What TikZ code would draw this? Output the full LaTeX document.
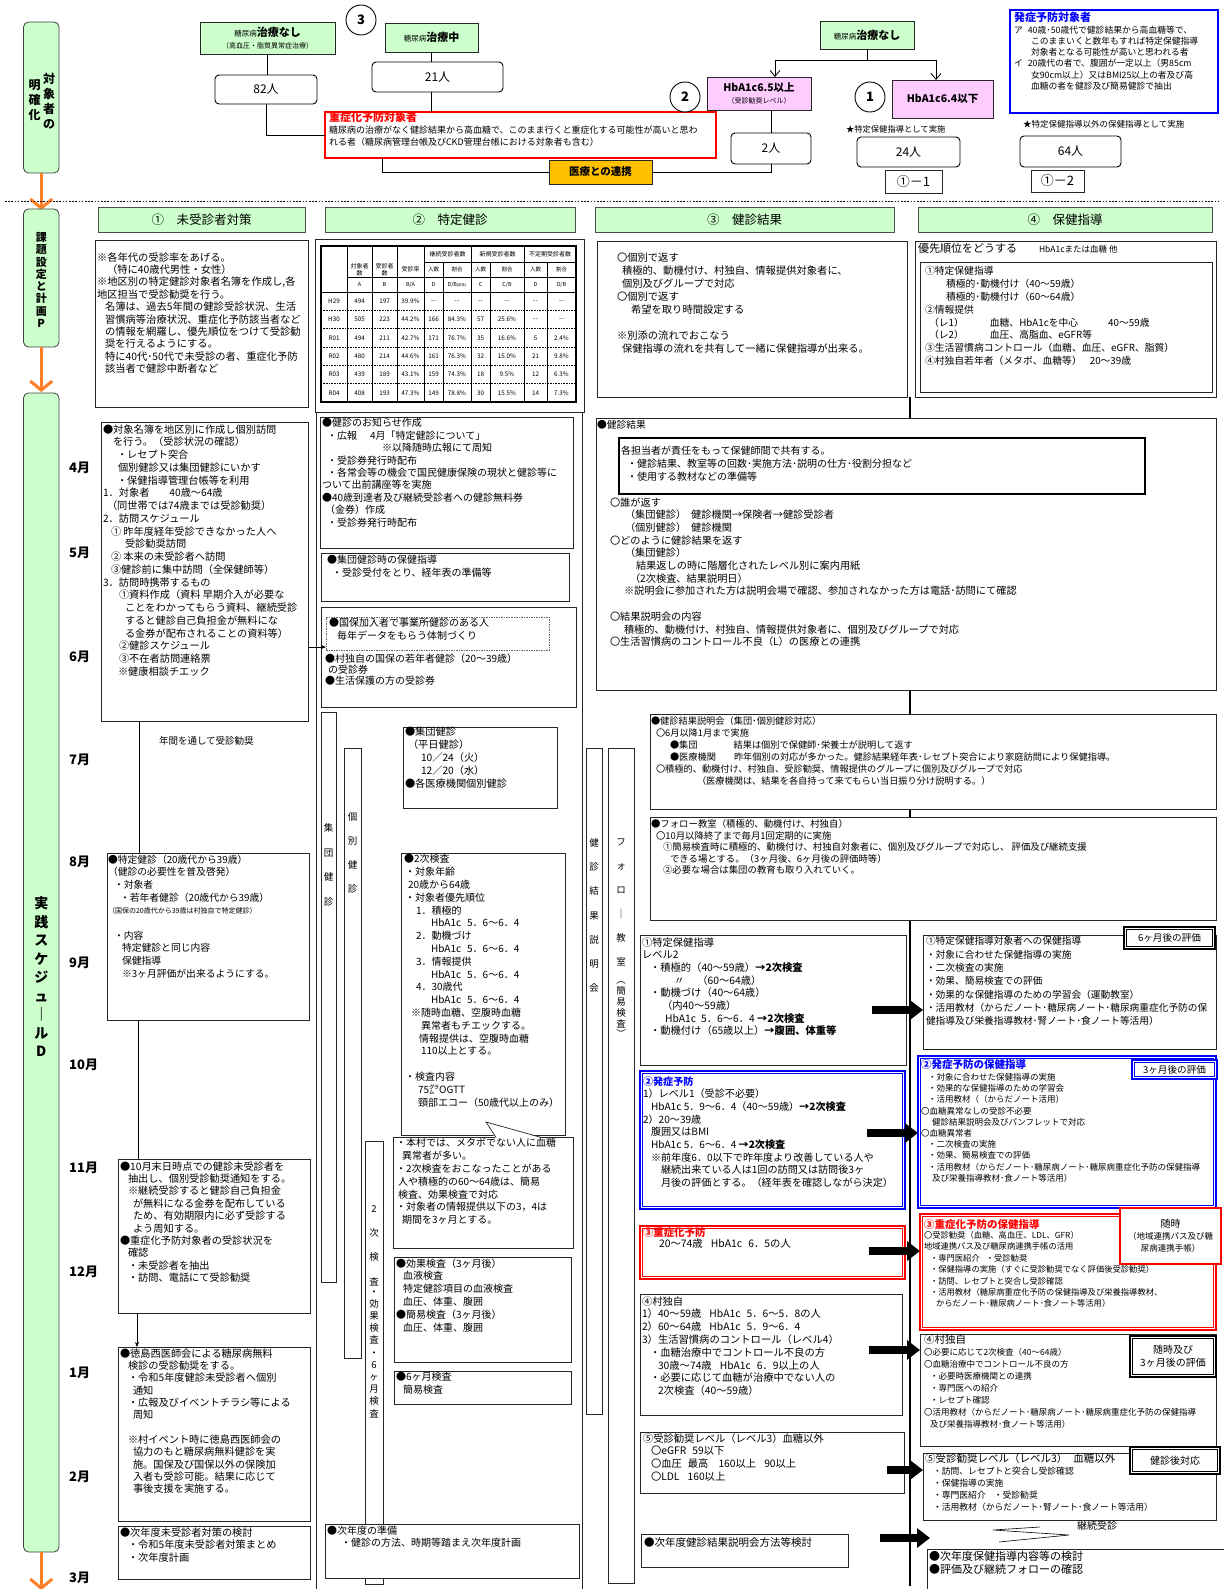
\documentclass[tikz,border=0pt]{standalone}
\usepackage{fontspec}
\setmainfont{Noto Sans CJK JP}
\usetikzlibrary{arrows.meta,calc}
\definecolor{sidegreen}{HTML}{CCFFCC}
\definecolor{pinkbox}{HTML}{FFCCFF}
\definecolor{goldbox}{HTML}{FFC000}
\definecolor{arrorange}{HTML}{FF7F27}
\definecolor{bblue}{HTML}{0000FF}
\definecolor{rred}{HTML}{FF0000}
\definecolor{edge}{HTML}{262626}
\newcommand\fs[2]{\fontsize{#1}{#2}\selectfont}
\newcommand\ind[1]{\hspace*{#1pt}}
\newcommand\ddash{-\kern0.4pt-}
% box: [style]{x1}{y1}{x2}{y2}{name}
\newcommand\bx[6][]{\node[bx,minimum width={(#4-#2)*1pt},minimum height={(#5-#3)*1pt},#1] (#6) at (#2,#3) {};}
% double-ruled box: [style]{x1}{y1}{x2}{y2}{name}{colour}
\newcommand\bxd[7][]{\node[bx,draw=#7,line width=1.2pt,minimum width={(#4-#2)*1pt},minimum height={(#5-#3)*1pt},#1] (#6) at (#2,#3) {};
  \draw[draw=#7,line width=0.5pt] ($(#6.north west)+(2.6,2.6)$) rectangle ($(#6.south east)+(-2.6,-2.6)$);}
% text block: {name}{x}{y of first line centre}{size}{skip}{text}
\newcommand\tl[6]{\node[tx,font=\fs{#4}{#5}] (#1) at (#2,{#3-0.55*#4}) {#6};}
\tikzset{
  bx/.style={rectangle,draw=edge,line width=0.7pt,fill=white,inner sep=0pt,outer sep=0pt,anchor=north west},
  tx/.style={inner sep=0pt,outer sep=0pt,anchor=north west,align=left},
  ctr/.style={inner sep=0pt,outer sep=0pt,anchor=center,align=center},
  side/.style={bx,fill=sidegreen,rounded corners=5pt,draw=black!75,line width=0.8pt},
  hdr/.style={bx,fill=sidegreen,draw=black!70,line width=0.8pt},
  rnd/.style={bx,rounded corners=4pt,line width=0.9pt,draw=black},
  circ/.style={circle,draw=black,line width=0.9pt,fill=white,minimum size=30pt,inner sep=0pt,font=\bfseries\fs{13}{13}},
  conn/.style={draw=black,line width=0.8pt},
  orarrow/.style={draw=arrorange,line width=3pt,-{Straight Barb[length=9pt,width=22pt]}},
  bigarrow/.style={draw=black,line width=8pt,-{Triangle[length=13pt,width=19pt]}},
  cell/.style={ctr,font=\fs{6.3}{7}}
}
\begin{document}
\begin{tikzpicture}[x=1pt,y=-1pt]
\useasboundingbox (0,0) rectangle (1223,1589);
\fill[white] (0,0) rectangle (1223,1589);

% ---------------- side bars ----------------
\bx[side]{23.5}{22}{59}{173}{sb1}
\node[ctr,font=\bfseries\fs{12}{15}] (sb1a) at (49,101) {対\\象\\者\\の};
\node[ctr,font=\bfseries\fs{12}{15}] (sb1b) at (34.5,100) {明\\確\\化};
\coordinate (oa1) at (41.25,210);
\draw[orarrow] (sb1.south) -- (oa1);

\coordinate (dl1) at (5,201.5); \coordinate (dl2) at (1218,201.5);
\draw[dash pattern=on 1.6pt off 1.6pt,line width=1.3pt] (dl1) -- (dl2);

\bx[side]{23.5}{209}{59}{347}{sb2}
\node[ctr,font=\bfseries\fs{11}{12.3}] (sb2t) at (41.25,280) {課\\題\\設\\定\\と\\計\\画\\P};
\coordinate (oa2) at (41.25,392);
\draw[orarrow] (sb2.south) -- (oa2);

\bx[side]{23.5}{393}{59}{1552}{sb3}
\node[ctr,font=\bfseries\fs{14}{18.5}] (sb3t) at (41.25,977) {実\\践\\ス\\ケ\\ジ\\ュ\\｜\\ル\\D};
\coordinate (oa3) at (41.25,1590);
\draw[orarrow] (sb3.south) -- (oa3);

% ---------------- top: target groups ----------------
\bx[fill=sidegreen]{200}{22}{335}{54}{tnL}
\node[ctr,font=\fs{9}{12}] (tnLt) at (267.5,38) {{\fs{7.5}{9}糖尿病}{\bfseries\fs{11}{12}治療なし}\\{\fs{7}{9}（高血圧・脂質異常症治療）}};
\node[circ] (c3) at (361,20) {3};
\bx[fill=sidegreen]{385}{23}{478}{52}{tnM}
\node[ctr] (tnMt) at (431.5,37.5) {{\fs{7.5}{9}糖尿病}{\bfseries\fs{11}{12}治療中}};
\bx[rnd]{215}{75}{317}{104}{n82}
\node[ctr,font=\fs{12}{14}] (n82t) at (n82.center) {82人};
\bx[rnd]{372}{62}{503}{92}{n21}
\node[ctr,font=\fs{12}{14}] (n21t) at (n21.center) {21人};

\bx[draw=rred,line width=1.6pt]{325}{112}{716}{158}{red}
\tl{redt}{329}{118}{11}{13}{{\color{rred}\bfseries 重症化予防対象者}}
\tl{redb}{329}{130.5}{9}{12.5}{糖尿病の治療がなく健診結果から高血糖で、このまま行くと重症化する可能性が高いと思わ\\れる者（糖尿病管理台帳及びCKD管理台帳における対象者も含む）}

\bx[fill=goldbox]{549}{160}{652}{184}{gold}
\node[ctr,font=\bfseries\fs{10.5}{12}] (goldt) at (gold.center) {医療との連携};

\draw[conn] (tnL.south) -- (tnL.south |- n82.north);
\draw[conn] (n82.south) |- (red.west);
\draw[conn] (tnM.south) -- (tnM.south |- n21.north);
\draw[conn] (tnM.south |- n21.south) -- (tnM.south |- red.north);
\coordinate (rb) at (382,158);
\draw[conn] (rb) |- (gold.west);

\bx[fill=sidegreen]{820}{21}{914}{49}{tnR}
\node[ctr] (tnRt) at (tnR.center) {{\fs{7.5}{9}糖尿病}{\bfseries\fs{11}{12}治療なし}};
\bx[fill=pinkbox]{707}{77}{811}{110}{h65}
\node[ctr,font=\fs{9}{12}] (h65t) at (759,93.5) {{\bfseries\fs{10.5}{11}HbA1c6.5以上}\\{\fs{7}{9}（受診勧奨レベル）}};
\node[circ] (c2) at (685,97) {2};
\bx[fill=pinkbox]{892}{80}{993}{118}{h64}
\node[ctr,font=\bfseries\fs{10.5}{12}] (h64t) at (h64.center) {HbA1c6.4以下};
\node[circ] (c1) at (870,97) {1};
\coordinate (spC) at (867,60); \coordinate (spL) at (775,60); \coordinate (spR) at (936,60);
\draw[conn] (tnR.south) -- (spC);
\draw[conn] (spL) -- (spR);
\draw[conn,-{Straight Barb[length=6pt,width=10pt]}] (spL) -- (spL |- h65.north);
\draw[conn,-{Straight Barb[length=6pt,width=10pt]}] (spR) -- (spR |- h64.north);

\bx[rnd]{731}{133}{811}{164}{n2}
\node[ctr,font=\fs{12}{14}] (n2t) at (n2.center) {2人};
\draw[conn] (n2.north |- h65.south) -- (n2.north);
\draw[conn] (n2.south) |- (gold.east);

\tl{star1}{846}{130}{8.3}{10}{★特定保健指導として実施}
\bx[rnd]{857}{137}{960}{167}{n24}
\node[ctr,font=\fs{12}{14}] (n24t) at (n24.center) {24人};
\bx{885}{170}{942}{193}{k11}
\node[ctr,font=\fs{13}{14}] (k11t) at (k11.center) {①－1};

\bx[draw=bblue,line width=1.8pt]{1010}{10}{1218}{113}{blu}
\tl{blut}{1014}{18}{11}{13}{{\color{bblue}\bfseries 発症予防対象者}}
\tl{blub}{1014}{30.5}{8.8}{11.3}{ア\ind{5}40歳･50歳代で健診結果から高血糖等で、\\\ind{17}このままいくと数年もすれば特定保健指導\\\ind{17}対象者となる可能性が高いと思われる者\\イ\ind{5}20歳代の者で、腹囲が一定以上（男85cm\\\ind{17}女90cm以上）又はBMI25以上の者及び高\\\ind{17}血糖の者を健診及び簡易健診で抽出}
\tl{star2}{1023}{125}{8.5}{10}{★特定保健指導以外の保健指導として実施}
\bx[rnd]{1020}{136}{1121}{167}{n64}
\node[ctr,font=\fs{12}{14}] (n64t) at (n64.center) {64人};
\bx{1031}{170}{1084}{192}{k12}
\node[ctr,font=\fs{13}{14}] (k12t) at (k12.center) {①－2};

% ---------------- plan row ----------------
\bx[hdr]{98}{207}{305}{232}{h1}
\node[ctr,font=\fs{12.5}{14}] (h1t) at (h1.center) {①　未受診者対策};
\bx[hdr]{325}{207}{575}{232}{h2}
\node[ctr,font=\fs{12.5}{14}] (h2t) at (h2.center) {②　特定健診};
\bx[hdr]{595}{207}{894}{232}{h3}
\node[ctr,font=\fs{12.5}{14}] (h3t) at (h3.center) {③　健診結果};
\bx[hdr]{918}{207}{1212}{232}{h4}
\node[ctr,font=\fs{12.5}{14}] (h4t) at (h4.center) {④　保健指導};

\bx{95}{240}{308}{407}{p1}
\tl{p1t}{97}{258}{10.3}{12.4}{※各年代の受診率をあげる。\\\ind{10}（特に40歳代男性・女性）\\※地区別の特定健診対象者名簿を作成し,各\\地区担当で受診勧奨を行う。\\\ind{8}名簿は、過去5年間の健診受診状況、生活\\\ind{8}習慣病等治療状況、重症化予防該当者など\\\ind{8}の情報を網羅し、優先順位をつけて受診勧\\\ind{8}奨を行えるようにする。\\\ind{8}特に40代･50代で未受診の者、重症化予防\\\ind{8}該当者で健診中断者など}

% health check table
\bx{315}{239}{584}{412}{p2}
\coordinate (tnw) at (321,246); \coordinate (tse) at (576,402);
\foreach \x in {347,372,397,424,471,524} \draw[line width=0.5pt] (\x,246) -- (\x,402);
\foreach \x in {443,490,547} \draw[line width=0.5pt] (\x,262) -- (\x,402);
\draw[line width=0.5pt] (424,262) -- (576,262);
\draw[line width=0.5pt] (347,277) -- (576,277);
\draw[line width=0.5pt] (321,292) -- (576,292);
\foreach \y in {310.3,328.7,347,365.3,383.7} \draw[line width=0.5pt,dash pattern=on 0.8pt off 0.8pt] (321,\y) -- (576,\y);
\draw[line width=1.4pt] (tnw) rectangle (tse);
\node[ctr,font=\fs{6}{7.5}] (th1) at (359.5,269.5) {対象者\\数};
\node[ctr,font=\fs{6}{7.5}] (th2) at (384.5,269.5) {受診者\\数};
\node[ctr,font=\fs{6}{7.5}] (th3) at (410.5,269.5) {受診率};
\node[ctr,font=\fs{6}{7.5}] (th4) at (447.5,254) {継続受診者数};
\node[ctr,font=\fs{6}{7.5}] (th5) at (497.5,254) {新規受診者数};
\node[ctr,font=\fs{6}{7.5}] (th6) at (550,254) {不定期受診者数};
\def\colx{{334,359.5,384.5,410.5,433.5,457,480.5,507,535.5,561.5}}
\foreach \v [count=\c from 4] in {人数,割合,人数,割合,人数,割合}{
  \pgfmathsetmacro\xx{\colx[\c]}
  \node[ctr,font=\fs{5.5}{6}] (tr2-\c) at (\xx,269.5) {\v};}
\foreach \v [count=\c from 1] in {A,B,B/A,D,{D/B{\fs{3.5}{4}(前年)}},C,C/B,D,D/B}{
  \pgfmathsetmacro\xx{\colx[\c]}
  \node[ctr,font=\fs{5.5}{6}] (tr3-\c) at (\xx,284.5) {\v};}
\foreach \v [count=\c from 0] in {H29,494,197,39.9\%,\ddash,\ddash,\ddash,\ddash,\ddash,\ddash}{
  \pgfmathsetmacro\xx{\colx[\c]}
  \node[cell] (ta\c) at (\xx,301.2) {\v};}
\foreach \v [count=\c from 0] in {H30,505,223,44.2\%,166,84.3\%,57,25.6\%,\ddash,\ddash}{
  \pgfmathsetmacro\xx{\colx[\c]}
  \node[cell] (tb\c) at (\xx,319.5) {\v};}
\foreach \v [count=\c from 0] in {R01,494,211,42.7\%,171,76.7\%,35,16.6\%,5,2.4\%}{
  \pgfmathsetmacro\xx{\colx[\c]}
  \node[cell] (tc\c) at (\xx,337.8) {\v};}
\foreach \v [count=\c from 0] in {R02,480,214,44.6\%,161,76.3\%,32,15.0\%,21,9.8\%}{
  \pgfmathsetmacro\xx{\colx[\c]}
  \node[cell] (td\c) at (\xx,356.2) {\v};}
\foreach \v [count=\c from 0] in {R03,439,189,43.1\%,159,74.3\%,18,9.5\%,12,6.3\%}{
  \pgfmathsetmacro\xx{\colx[\c]}
  \node[cell] (te\c) at (\xx,374.5) {\v};}
\foreach \v [count=\c from 0] in {R04,408,193,47.3\%,149,78.8\%,30,15.5\%,14,7.3\%}{
  \pgfmathsetmacro\xx{\colx[\c]}
  \node[cell] (tf\c) at (\xx,392.8) {\v};}

\bx{597}{241}{907}{397}{p3}
\tl{p3t}{617}{259}{10.3}{13}{〇個別で返す\\\ind{5}積極的、動機付け、村独自、情報提供対象者に、\\\ind{5}個別及びグループで対応\\〇個別で返す\\\ind{14}希望を取り時間設定する\\\mbox{}\\※別添の流れでおこなう\\\ind{5}保健指導の流れを共有して一緒に保健指導が出来る。}

\bx{915}{241}{1216}{397}{p4o}
\bx{920}{262}{1212}{392}{p4i}
\tl{p4h}{918}{249}{11}{13}{優先順位をどうする\ind{22}{\fs{8.5}{10}HbA1cまたは血糖 他}}
\tl{p4t}{925}{272}{9.8}{12.8}{①特定保健指導\\\ind{21}積極的･動機付け（40～59歳）\\\ind{21}積極的･動機付け（60～64歳）\\②情報提供\\\ind{4}（レ1）\ind{26}血糖、HbA1cを中心\ind{30}40～59歳\\\ind{4}（レ2）\ind{26}血圧、高脂血、eGFR等\\③生活習慣病コントロール（血糖、血圧、eGFR、脂質）\\④村独自若年者（メタボ、血糖等）\ind{8}20～39歳}

% spine of column 3/4
\coordinate (vtop) at (910,397); \coordinate (vbot) at (910,1586);
\draw[line width=1.3pt] (vtop) -- (vbot);

% ---------------- schedule row ----------------
\foreach \m/\y [count=\i] in {4月/468,5月/553,6月/657,7月/760,8月/862,9月/963,10月/1065,11月/1168,12月/1272,1月/1373,2月/1477,3月/1578}
  \node[anchor=west,inner sep=0pt,font=\bfseries\fs{13}{14}] (mon\i) at (69,\y) {\m};

% column 1
\bx{101}{422}{308}{721}{d1}
\tl{d1t}{103}{430}{10.2}{12.75}{●対象名簿を地区別に作成し個別訪問\\\ind{10}を行う。（受診状況の確認）\\\ind{14}・レセプト突合\\\ind{15}個別健診又は集団健診にいかす\\\ind{14}・保健指導管理台帳等を利用\\1．対象者\ind{20}40歳～64歳\\\ind{4}（同世帯では74歳までは受診勧奨）\\2．訪問スケジュール\\\ind{8}① 昨年度経年受診できなかった人へ\\\ind{22}受診勧奨訪問\\\ind{8}② 本来の未受診者へ訪問\\\ind{8}③健診前に集中訪問（全保健師等）\\3．訪問時携帯するもの\\\ind{16}①資料作成（資料 早期介入が必要な\\\ind{22}ことをわかってもらう資料、継続受診\\\ind{22}すると健診自己負担金が無料にな\\\ind{22}る金券が配布されることの資料等）\\\ind{16}②健診スケジュール\\\ind{16}③不在者訪問連絡票\\\ind{15}※健康相談チエック}

\tl{yr}{159}{742}{9.5}{11}{年間を通して受診勧奨}

\bx{107}{853}{309}{1020}{d8}
\tl{d8t}{108}{860}{9.8}{12.7}{●特定健診（20歳代から39歳）\\（健診の必要性を普及啓発）\\\ind{6}・対象者\\\ind{12}・若年者健診（20歳代から39歳）\\{\fs{7}{9}（国保の20歳代から39歳は村独自で特定健診）}\\\mbox{}\\\ind{6}・内容\\\ind{14}特定健診と同じ内容\\\ind{14}保健指導\\\ind{14}※3ヶ月評価が出来るようにする。}

\bx{118}{1159}{310}{1313}{d11}
\tl{d11t}{120}{1167}{10.2}{12.4}{●10月末日時点での健診未受診者を\\\ind{8}抽出し、個別受診勧奨通知をする。\\\ind{8}※継続受診すると健診自己負担金\\\ind{13}が無料になる金券を配布している\\\ind{13}ため、有効期限内に必ず受診する\\\ind{13}よう周知する。\\●重症化予防対象者の受診状況を\\\ind{8}確認\\\ind{8}・未受診者を抽出\\\ind{8}・訪問、電話にて受診勧奨}

\bx{118}{1347}{310}{1521}{d1m}
\tl{d1mt}{120}{1354}{10.2}{12.35}{●徳島西医師会による糖尿病無料\\\ind{8}検診の受診勧奨をする。\\\ind{8}・令和5年度健診未受診者へ個別\\\ind{13}通知\\\ind{8}・広報及びイベントチラシ等による\\\ind{13}周知\\\mbox{}\\\ind{8}※村イベント時に徳島西医師会の\\\ind{13}協力のもと糖尿病無料健診を実\\\ind{13}施。国保及び国保以外の保険加\\\ind{13}入者も受診可能。結果に応じて\\\ind{13}事後支援を実施する。}

\bx{118}{1526}{310}{1579}{d3m}
\tl{d3mt}{120}{1533}{10.2}{12.5}{●次年度未受診者対策の検討\\\ind{8}・令和5年度未受診者対策まとめ\\\ind{8}・次年度計画}

\coordinate (c1) at ($(d1.south west)+(38,0)$);
\draw[conn] (c1) -- (c1 |- d8.north);
\coordinate (c2) at ($(d8.south west)+(31,0)$);
\draw[conn] (c2) -- (c2 |- d11.north);
\coordinate (c3) at ($(d11.south west)+(19,0)$);
\draw[conn,-{Stealth[length=5pt,width=4pt]}] (c3) -- (c3 |- d1m.north);

% column 2
\bx[fill=none]{316}{412}{582}{1595}{f2}
\bx{320}{417}{573}{548}{k1}
\tl{k1t}{322}{424}{10}{12.4}{●健診のお知らせ作成\\\ind{5}・広報\ind{13}4月「特定健診について」\\\ind{60}※以降随時広報にて周知\\\ind{5}・受診券発行時配布\\\ind{5}・各常会等の機会で国民健康保険の現状と健診等に\\ついて出前講座等を実施\\●40歳到達者及び継続受診者への健診無料券\\\ind{3}（金券）作成\\\ind{5}・受診券発行時配布}

\bx{321}{553}{569}{601}{k2}
\tl{k2t}{327}{561}{10}{12.8}{●集団健診時の保健指導\\\ind{5}・受診受付をとり、経年表の準備等}

\bx{321}{607}{576}{707}{k3}
\bx[draw=black!60,line width=0.5pt,dash pattern=on 1.5pt off 1pt]{326}{617}{549}{650}{kd}
\tl{kdt}{329}{624}{10}{12.8}{●国保加入者で事業所健診のある人\\\ind{8}毎年データをもらう体制づくり}
\tl{k3t}{325}{659}{10}{11.3}{●村独自の国保の若年者健診（20～39歳）\\\ind{3}の受診券\\●生活保護の方の受診券}
\coordinate (y647) at (0,647);
\draw[conn,-{Stealth[length=5pt,width=4pt]}] (d1.east |- y647) -- (kd.west |- y647);

\bx{321}{712}{336}{1282}{vg1}
\node[ctr,font=\fs{9.5}{24.7}] (vg1t) at (328.5,865) {集\\団\\健\\診};
\bx{344}{748}{361}{1358}{vg2}
\node[ctr,font=\fs{9.5}{24}] (vg2t) at (352.5,853) {個\\別\\健\\診};

\bx{403}{727}{557}{808}{k4}
\tl{k4t}{405}{733}{10.2}{12.8}{●集団健診\\\ind{3}（平日健診）\\\ind{16}10／24（火）\\\ind{16}12／20（水）\\●各医療機関個別健診}

\bx{401}{853}{565}{1135}{k5}
\tl{k5t}{404}{860}{10}{12.8}{●2次検査\\\ind{1}・対象年齢\\\ind{4}20歳から64歳\\\ind{1}・対象者優先順位\\\ind{12}1．積極的\\\ind{27}HbA1c\ind{6}5．6～6．4\\\ind{12}2．動機づけ\\\ind{27}HbA1c\ind{6}5．6～6．4\\\ind{12}3．情報提供\\\ind{27}HbA1c\ind{6}5．6～6．4\\\ind{12}4．30歳代\\\ind{27}HbA1c\ind{6}5．6～6．4\\\ind{7}※随時血糖、空腹時血糖\\\ind{17}異常者もチエックする。\\\ind{15}情報提供は、空腹時血糖\\\ind{17}110以上とする。\\\mbox{}\\\ind{1}・検査内容\\\ind{14}75㌘OGTT\\\ind{14}頸部エコー（50歳代以上のみ）}

\bx{393}{1137}{573}{1248}{k6}
\coordinate (tp) at (486,1122); \coordinate (tb1) at (496,1137.4); \coordinate (tb2) at (541,1137.4);
\fill[white] (495.3,1138.2) -- (486,1122) -- (542.2,1138.2) -- cycle;
\draw[draw=edge,line width=0.7pt] (tb1) -- (tp) -- (tb2);
\tl{k6t}{396}{1144}{10}{12.8}{・本村では、メタボでない人に血糖\\\ind{6}異常者が多い。\\・2次検査をおこなったことがある\\\ind{2}人や積極的の60～64歳は、簡易\\\ind{2}検査、効果検査で対応\\・対象者の情報提供以下の3，4は\\\ind{6}期間を3ヶ月とする。}

\bx{365}{1141}{383}{1584}{vg3}
\node[ctr,font=\fs{9.5}{24.3}] (vg3a) at (374,1245.5) {2\\次\\検\\査};
\node[ctr,font=\fs{9.5}{12.2}] (vg3b) at (374,1354) {・\\効\\果\\検\\査\\・\\6\\ヶ\\月\\検\\査};

\bx{394}{1257}{571}{1362}{k7}
\tl{k7t}{396}{1264}{10}{12.8}{●効果検査（3ヶ月後）\\\ind{7}血液検査\\\ind{7}特定健診項目の血液検査\\\ind{7}血圧、体重、腹囲\\●簡易検査（3ヶ月後）\\\ind{7}血圧、体重、腹囲}
\bx{394}{1371}{571}{1404}{k8}
\tl{k8t}{396}{1378}{10}{12.5}{●6ヶ月検査\\\ind{7}簡易検査}
\bx{325}{1524}{579}{1578}{k9}
\tl{k9t}{327}{1532}{10}{11.5}{●次年度の準備\\\ind{14}・健診の方法、時期等踏まえ次年度計画}

% column 3
\bx{596}{418}{1216}{690}{r1}
\tl{r1a}{597}{426}{9.8}{12}{●健診結果}
\bx[line width=1.2pt,draw=black]{619}{438}{1145}{494}{r1i}
\tl{r1b}{621}{452}{10}{13}{各担当者が責任をもって保健師間で共有する。\\\ind{6}・健診結果、教室等の回数･実施方法･説明の仕方･役割分担など\\\ind{6}・使用する教材などの準備等}
\tl{r1c}{610}{503}{10.2}{12.7}{〇誰が返す\\\ind{15}（集団健診）\ind{5}健診機関→保険者→健診受診者\\\ind{15}（個別健診）\ind{5}健診機関\\〇どのように健診結果を返す\\\ind{15}（集団健診）\\\ind{26}結果返しの時に階層化されたレベル別に案内用紙\\\ind{20}（2次検査、結果説明日）\\\ind{14}※説明会に参加された方は説明会場で確認、参加されなかった方は電話･訪問にて確認\\\mbox{}\\〇結果説明会の内容\\\ind{14}積極的、動機付け、村独自、情報提供対象者に、個別及びグループで対応\\〇生活習慣病のコントロール不良（L）の医療との連携}

\bx{586}{748}{602}{1414}{vg4}
\node[ctr,font=\fs{9.5}{24.2}] (vg4t) at (594,915.5) {健\\診\\結\\果\\説\\明\\会};
\bx{608}{748}{634}{1583}{vg5}
\node[ctr,font=\fs{9.5}{24}] (vg5a) at (621,902) {フ\\ォ\\ロ\\｜\\教\\室};
\node[ctr,font=\fs{9.5}{10.8}] (vg5b) at (621,1010) {︵\\簡\\易\\検\\査\\︶};

\bx{650}{714}{1216}{809}{r2}
\tl{r2t}{651}{722}{9.2}{11.9}{●健診結果説明会（集団･個別健診対応）\\\ind{5}〇6月以降1月まで実施\\\ind{19}●集団\ind{36}結果は個別で保健師･栄養士が説明して返す\\\ind{19}●医療機関\ind{18}昨年個別の対応が多かった。健診結果経年表･レセプト突合により家庭訪問により保健指導。\\\ind{5}〇積極的、動機付け、村独自、受診勧奨、情報提供のグループに個別及びグループで対応\\\ind{46}（医療機関は、結果を各自持って来てもらい当日振り分け説明する。）}

\bx{650}{817}{1216}{920}{r3}
\tl{r3t}{651}{825}{9.4}{11.5}{●フォロー教室（積極的、動機付け、村独自）\\\ind{5}〇10月以降終了まで毎月1回定期的に実施\\\ind{12}①簡易検査時に積極的、動機付け、村独自対象者に、個別及びグループで対応し、 評価及び継続支援\\\ind{19}できる場とする。（3ヶ月後、6ヶ月後の評価時等）\\\ind{12}②必要な場合は集団の教育も取り入れていく。}

% guidance rows
\bx{640}{935}{906}{1065}{s1L}
\tl{s1Lt}{642}{943}{10.3}{12.7}{①特定保健指導\\レベル2\\\ind{8}・積極的（40～59歳）\textbf{→2次検査}\\\ind{32}〃\ind{13}（60～64歳）\\\ind{8}・動機づけ（40～64歳）\\\ind{20}（内40～59歳）\\\ind{23}HbA1c\ind{5}5．6～6．4 \textbf{→2次検査}\\\ind{8}・動機付け（65歳以上）\textbf{→腹囲、体重等}}
\bx{923}{935}{1216}{1049}{s1R}
\tl{s1Rt}{926}{942}{9.7}{13.3}{①特定保健指導対象者への保健指導\\・対象に合わせた保健指導の実施\\・二次検査の実施\\・効果、簡易検査での評価\\・効果的な保健指導のための学習会（運動教室）\\・活用教材（からだノート･糖尿病ノート･糖尿病重症化予防の保\\健指導及び栄養指導教材･腎ノート･食ノート等活用）}
\bxd{1124}{927}{1215}{949}{e1}{black}
\node[ctr,font=\fs{9.6}{11}] (e1t) at (e1.center) {6ヶ月後の評価};
\coordinate (a1s) at (872,1010);
\draw[bigarrow] (a1s) -- (s1R.west |- a1s);

\bxd{640}{1071}{905}{1209}{s2L}{bblue}
\tl{s2Lt}{643}{1082}{10.1}{12.65}{{\color{bblue}\bfseries ②発症予防}\\1）レベル1（受診不必要）\\\ind{8}HbA1c 5．9～6．4（40～59歳）\textbf{→2次検査}\\2）20～39歳\\\ind{8}腹囲又はBMI\\\ind{8}HbA1c 5．6～6．4 \textbf{→2次検査}\\\ind{8}※前年度6．0以下で昨年度より改善している人や\\\ind{18}継続出来ている人は1回の訪問又は訪問後3ヶ\\\ind{18}月後の評価とする。（経年表を確認しながら決定）}
\bxd{918}{1056}{1216}{1208}{s2R}{bblue}
\tl{s2Rt1}{921}{1065}{10.5}{12}{{\color{bblue}\bfseries ②発症予防の保健指導}}
\tl{s2Rt2}{921}{1078}{8.5}{11.2}{\ind{7}・対象に合わせた保健指導の実施\\\ind{7}・効果的な保健指導のための学習会\\\ind{7}・活用教材（（からだノート活用）\\〇血糖異常なしの受診不必要\\\ind{11}健診結果説明会及びパンフレットで対応\\〇血糖異常者\\\ind{7}・二次検査の実施\\\ind{7}・効果、簡易検査での評価\\\ind{7}・活用教材（からだノート･糖尿病ノート･糖尿病重症化予防の保健指導\\\ind{11}及び栄養指導教材･食ノート等活用）}
\bxd{1132}{1060}{1217}{1079}{e2}{bblue}
\node[ctr,font=\fs{9.6}{11}] (e2t) at (e2.center) {3ヶ月後の評価};
\coordinate (a2s) at (867,1133);
\draw[bigarrow] (a2s) -- (s2R.west |- a2s);

\bxd{640}{1226}{905}{1279}{s3L}{rred}
\tl{s3Lt}{643}{1233}{10.4}{11}{{\color{rred}\bfseries ③重症化予防}\\\ind{16}20～74歳\ind{8}HbA1c\ind{6}6．5の人}
\bxd{920}{1214}{1216}{1330}{s3R}{rred}
\tl{s3Rt1}{924}{1225}{10.5}{11}{{\color{rred}\bfseries ③重症化予防の保健指導}}
\tl{s3Rt2}{924}{1236}{8.3}{11.4}{〇受診勧奨（血糖、高血圧、LDL、GFR）\\地域連携パス及び糖尿病連携手帳の活用\\\ind{6}・専門医紹介\ind{6}・受診勧奨\\\ind{6}・保健指導の実施（すぐに受診勧奨でなく評価後受診勧奨）\\\ind{6}・訪問、レセプトと突合し受診確認\\\ind{6}・活用教材（糖尿病重症化予防の保健指導及び栄養指導教材、\\\ind{12}からだノート･糖尿病ノート･食ノート等活用）}
\bx[draw=rred,line width=1.3pt]{1120}{1208}{1221}{1264}{e3}
\node[ctr,font=\fs{8.5}{12}] (e3t) at (1170.5,1236) {{\fs{10}{12}随時}\\（地域連携パス及び糖\\尿病連携手帳）};
\coordinate (a3s) at (869,1251);
\draw[bigarrow] (a3s) -- (s3R.west |- a3s);

\bx{640}{1294}{902}{1415}{s4L}
\tl{s4Lt}{642}{1302}{10.3}{12.8}{④村独自\\1）40～59歳\ind{8}HbA1c\ind{6}5．6～5．8の人\\2）60～64歳\ind{8}HbA1c\ind{6}5．9～6．4\\3）生活習慣病のコントロール（レベル4）\\\ind{8}・血糖治療中でコントロール不良の方\\\ind{16}30歳～74歳\ind{8}HbA1c\ind{6}6．9以上の人\\\ind{8}・必要に応じて血糖が治療中でない人の\\\ind{16}2次検査（40～59歳）}
\bx{920}{1334}{1216}{1446}{s4R}
\tl{s4Rt1}{924}{1340}{10.5}{12}{④村独自}
\tl{s4Rt2}{924}{1353}{8.5}{12}{〇必要に応じて2次検査（40～64歳）\\〇血糖治療中でコントロール不良の方\\\ind{6}・必要時医療機関との連携\\\ind{6}・専門医への紹介\\\ind{6}・レセプト確認\\〇活用教材（からだノート･糖尿病ノート･糖尿病重症化予防の保健指導\\\ind{6}及び栄養指導教材･食ノート等活用）}
\bxd{1130}{1336}{1216}{1377}{e4}{black}
\node[ctr,font=\fs{10}{13}] (e4t) at (e4.center) {随時及び\\3ヶ月後の評価};
\coordinate (a4s) at (869,1350);
\draw[bigarrow] (a4s) -- (s4R.west |- a4s);

\bx{640}{1432}{904}{1493}{s5L}
\tl{s5Lt}{643}{1439}{10.3}{12.7}{⑤受診勧奨レベル（レベル3）血糖以外\\\ind{8}〇eGFR\ind{6}59以下\\\ind{8}〇血圧\ind{6}最高\ind{10}160以上\ind{8}90以上\\\ind{8}〇LDL\ind{8}160以上}
\bx{923}{1453}{1216}{1520}{s5R}
\tl{s5Rt1}{925}{1459}{10.5}{12}{⑤受診勧奨レベル（レベル3）\ind{6}血糖以外}
\tl{s5Rt2}{933}{1472}{8.8}{12}{・訪問、レセプトと突合し受診確認\\・保健指導の実施\\・専門医紹介\ind{8}・受診勧奨\\・活用教材（からだノート･腎ノート･食ノート等活用）}
\bxd{1130}{1447}{1220}{1474}{e5}{black}
\node[ctr,font=\fs{10}{12}] (e5t) at (e5.center) {健診後対応};
\coordinate (a5s) at (887,1470);
\draw[bigarrow] (a5s) -- (s5R.west |- a5s);

\coordinate (z1) at (1040,1527); \coordinate (z2) at (993,1530);
\coordinate (z3) at (1069,1535); \coordinate (z4) at (999,1542);
\draw[line width=0.6pt] (z1) -- (z2) -- (z3) -- (z4);
\tl{kz}{1077}{1527}{10}{12}{継続受診}

\bx{641}{1534}{848}{1567}{s6L}
\tl{s6Lt}{644}{1543}{10.5}{12}{●次年度健診結果説明会方法等検討}
\coordinate (a6s) at (880,1538); \coordinate (a6e) at (930,1538);
\draw[bigarrow] (a6s) -- (a6e);
\bx{927}{1549}{1226}{1596}{s6R}
\tl{s6Rt}{929}{1557}{11}{13}{●次年度保健指導内容等の検討\\●評価及び継続フォローの確認}
\end{tikzpicture}
\end{document}
